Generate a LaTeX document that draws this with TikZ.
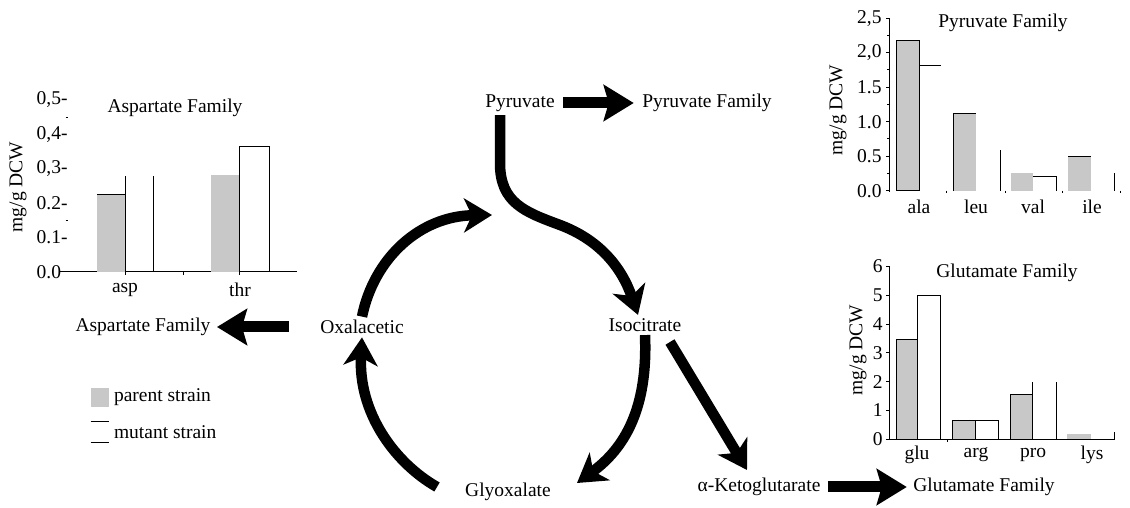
\documentclass[tikz,border=0pt]{standalone}
\usepackage{fontspec}
\setmainfont{Liberation Serif}
\usetikzlibrary{arrows.meta}
\definecolor{parentgray}{RGB}{200,200,200}
\tikzset{
  fat/.style={line width=11pt,-{Stealth[length=30pt,width=36pt,inset=5pt]}},
  cyc/.style={line width=10.5pt,-{Stealth[length=28pt,width=34pt,inset=8pt]}},
  parentbar/.style={fill=parentgray},
  chart/.style={line width=1pt},
}

\begin{document}
\begin{tikzpicture}[x=1pt,y=1pt,every node/.style={font=\fontsize{19.5}{23}\selectfont}]
\useasboundingbox (0,0) rectangle (1130,508);

\node (pyr) at (520,405) {Pyruvate};
\node (pyrfam) at (707,405) {Pyruvate Family};
\node (oxa) at (362,181) {Oxalacetic};
\node (iso) at (645,183) {Isocitrate};
\node (gly) at (508,16) {Glyoxalate};
\node (akg) at (759,21) {α-Ketoglutarate};
\node (glufam) at (984,21) {Glutamate Family};
\node (aspfam) at (143,181) {Aspartate Family};

\coordinate (merge) at (492,293);
\coordinate (glyout) at (437,21);
\coordinate (glyin) at (577,25);
\coordinate (isoout) at (670,166);
\coordinate (akgin) at (747,38);

\draw[fat,shorten <=5pt,shorten >=5pt] (pyr) -- (pyrfam);
\draw[fat,shorten <=4pt,shorten >=3pt] (akg) -- (glufam);
\draw[fat,shorten <=28pt,shorten >=3pt] (oxa.west) -- (aspfam.east);

\draw[cyc] ([xshift=-20pt]pyr.south) -- ++(0,-48) .. controls (500,305) and (525,296) .. (560,283)
  .. controls (600,268) and (622,240) .. ([xshift=-7pt]iso.north);
\draw[cyc] (oxa.north) .. controls (374,250) and (420,292) .. (merge);
\draw[cyc] (glyout) .. controls (395,45) and (358,95) .. (oxa.south);
\draw[cyc] (iso.south) .. controls (648,100) and (625,60) .. (glyin);
\draw[cyc] (isoout) -- (akgin);

% aspartate family
\begin{scope}[shift={(0,236)},y=344pt,chart]
\draw (60,0) -- (297,0);
\foreach \v/\t [count=\i] in {0.5/{0,5-},0.4/{0,4-},0.3/{0,3-},0.2/{0.2-},0.1/{0.1-},0/{0.0\phantom{-}}}
  \node[anchor=east,inner sep=0] (aspy\i) at (68,\v) {\t};
\foreach \v in {0.15,0.45} \draw (65.5,\v) -- (67.5,\v);
\fill[parentbar] (97,0) rectangle (125,0.225);
\draw (97,0.225) -- (125,0.225);
\draw (125,0) -- (125,0.28) (153,0) -- (153,0.28);
\fill[parentbar] (211,0) rectangle (239,0.283);
\draw (239,0) rectangle (269,0.365);
\foreach \x in {125,183,239} \draw (\x,0) -- (\x,-0.01);
\end{scope}
\node (asptitle) at (175,400) {Aspartate Family};
\node[rotate=90] (aspylab) at (18,321) {mg/g DCW};
\node (asp) at (125,218) {asp};
\node (thr) at (240,218) {thr};

% pyruvate family
\begin{scope}[shift={(0,317.3)},y=69pt,chart]
\draw (889.3,-0.02) -- (889.3,2.5);
\foreach \v in {0,0.5,...,2.5} \draw (889.3,\v) -- (885.5,\v);
\foreach \v in {0.25,0.75,...,2.25} \draw (889.3,\v) -- (887,\v);
\foreach \v/\t [count=\i] in {2.5/{2,5},2/{2,0},1.5/{1.5},1/{1.0},0.5/{0.5},0/{0.0}}
  \node[anchor=east,inner sep=0] (pyry\i) at (882,\v) {\t};
\filldraw[fill=parentgray] (896,0) rectangle (919.3,2.17);
\draw (919.3,1.82) -- (941,1.82);
\fill[parentbar] (953.3,0) rectangle (975.7,1.12);
\draw (953.3,0) -- (953.3,1.12) -- (975.7,1.12);
\draw (1000,0) -- (1000,0.59);
\fill[parentbar] (1010.7,0) rectangle (1033.3,0.25);
\draw (1033.3,0.21) -- (1056.7,0.21) -- (1056.7,0);
\fill[parentbar] (1068.3,0) rectangle (1091,0.49);
\draw (1068.3,0.49) -- (1091,0.49);
\draw (1114,0) -- (1114,0.25);
\foreach \x in {946.7,1005,1062,1120} \draw (\x,0) -- (\x,-0.03);
\end{scope}
\node (pyrtitle) at (1003,485) {Pyruvate Family};
\node[rotate=90] (pyrylab) at (838,398) {mg/g DCW};
\node (ala) at (919,301) {ala};
\node (leu) at (976,301) {leu};
\node (val) at (1033,301) {val};
\node (ile) at (1092,301) {ile};

% glutamate family
\begin{scope}[shift={(0,68.7)},y=28.8pt,chart]
\draw (889.3,6) -- (889.3,0) -- (1115,0);
\foreach \v in {0,...,6} {
  \draw (889.3,\v) -- (885.5,\v);
  \node[anchor=east,inner sep=0] (gluy\v) at (883,\v) {\v};
}
\filldraw[fill=parentgray] (896,0) rectangle (917.3,3.48);
\draw (917.3,0) rectangle (940.7,4.99);
\filldraw[fill=parentgray] (952.3,0) rectangle (975.7,0.64);
\draw (975.7,0) rectangle (998.3,0.64);
\fill[parentbar] (1010,0) rectangle (1032.7,1.54);
\draw (1010,0) -- (1010,1.54) -- (1032.7,1.54);
\draw (1032.7,0) -- (1032.7,1.98) (1056,0) -- (1056,1.98);
\fill[parentbar] (1067.3,0) rectangle (1091,0.17);
\draw (1114,0) -- (1114,0.25);
\draw (947,0) -- (947,-0.1);
\end{scope}
\node (glutitle) at (1007,235) {Glutamate Family};
\node[rotate=90] (gluylab) at (858,158) {mg/g DCW};
\node (glu) at (917,53) {glu};
\node (arg) at (976,53) {arg};
\node (pro) at (1033,53) {pro};
\node (lys) at (1092,53) {lys};

% legend
\fill[parentbar] (90.7,100.7) rectangle (109.3,119.7);
\node[anchor=west] (parentlbl) at (110.5,110.7) {parent strain};
\draw[chart] (90.7,86.3) -- (109.3,86.3) (90.7,65.7) -- (109.3,65.7);
\node[anchor=west] (mutantlbl) at (110.5,76.3) {mutant strain};
\end{tikzpicture}
\end{document}
